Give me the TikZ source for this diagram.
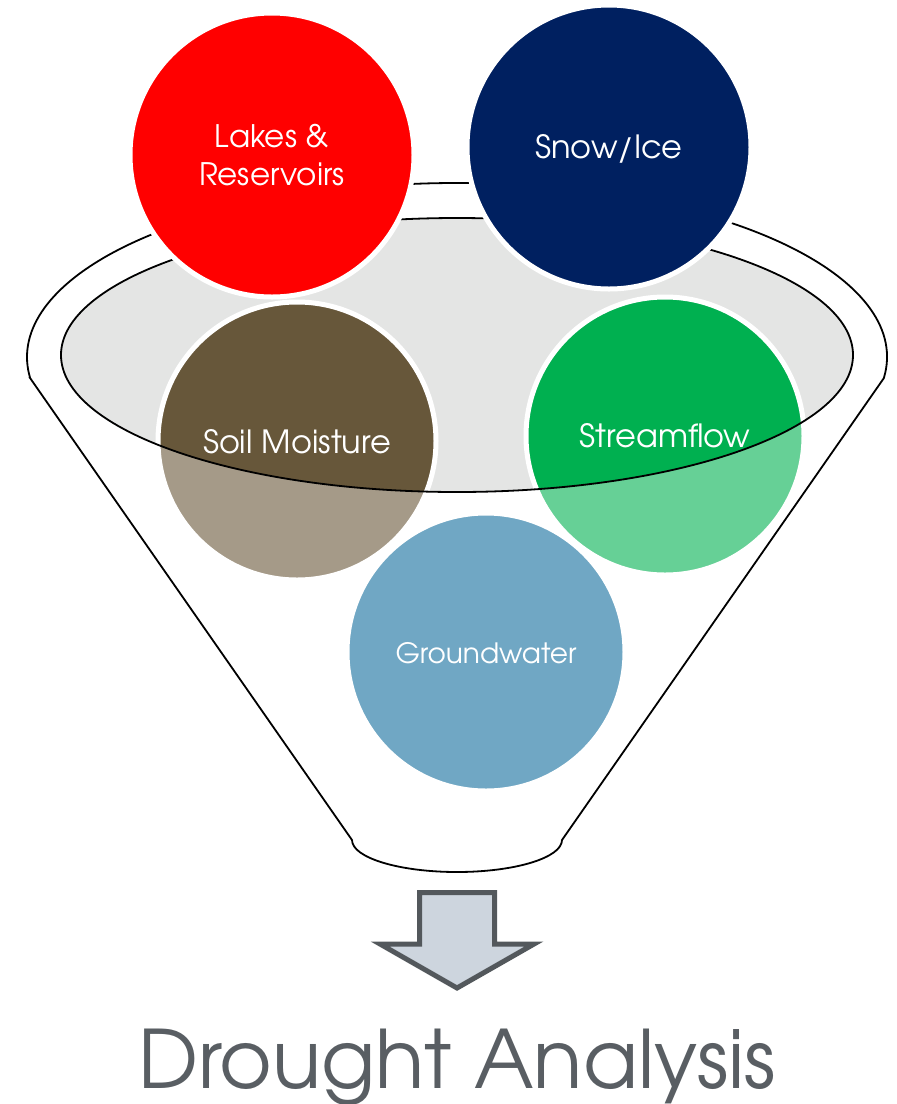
\documentclass[tikz,border=0pt]{standalone}
\usepackage{fontspec}
\setmainfont{TeX Gyre Adventor}
\begin{document}
\definecolor{lakered}{HTML}{FF0000}
\definecolor{snownavy}{HTML}{002060}
\definecolor{soildark}{HTML}{67573A}
\definecolor{soillight}{HTML}{A59A88}
\definecolor{flowdark}{HTML}{00B050}
\definecolor{flowlight}{HTML}{66D096}
\definecolor{gwblue}{HTML}{70A7C4}
\definecolor{rimgray}{HTML}{E4E5E4}
\definecolor{arrowfill}{HTML}{CDD5DE}
\definecolor{arrowline}{HTML}{53585C}
\definecolor{titlegray}{HTML}{595E63}
\begin{tikzpicture}[x=1pt,y=-1pt,
  funnelline/.style={draw=black,line width=1.8pt},
  bubble/.style={circle,inner sep=0pt,minimum size=#1,draw=white,line width=5pt},
  label/.style={text=white,font=\fontsize{32}{38}\selectfont,anchor=base,inner sep=0pt}]
\useasboundingbox (0,0) rectangle (897,1104);

% funnel body: upper rim, tapering sides, rounded spout
\draw[funnelline,fill=white] (30.2,378.2) -- (352,840)
  arc[start angle=180,end angle=0,x radius=105,y radius=32]
  -- (883.8,378.2)
  arc[start angle=7,end angle=-187,x radius=430,y radius=174] -- cycle;

% mouth of the funnel
\fill[rimgray] (457,355) ellipse[x radius=396,y radius=137];

% soil moisture and streamflow: darker where they sit inside the mouth
\fill[soillight] (297,441) circle[radius=139];
\fill[flowlight] (665,436) circle[radius=139];
\begin{scope}
  \clip (457,355) ellipse[x radius=396,y radius=137];
  \fill[soildark] (297,441) circle[radius=139];
  \fill[flowdark] (665,436) circle[radius=139];
\end{scope}
\node[bubble=278pt] (soil) at (297,441) {};
\node[bubble=278pt] (flow) at (665,436) {};

\draw[funnelline] (457,355) ellipse[x radius=396,y radius=137];

% bubbles resting on the rim and inside the funnel
\node[bubble=284pt,fill=lakered] (lakes) at (272,155) {};
\node[bubble=284pt,fill=snownavy] (snow) at (609,147) {};
\node[bubble=278pt,fill=gwblue] (ground) at (486,652) {};

\node[label,font=\fontsize{31}{36}\selectfont] (lakesA) at (272,147) {Lakes \&};
\node[label,font=\fontsize{31}{36}\selectfont] (lakesB) at (272,185) {Reservoirs};
\node[label] (snowT) at (609,158) {Snow/Ice};
\node[label,font=\fontsize{32}{38}\selectfont] (soilT) at (297,453) {Soil Moisture};
\node[label] (flowT) at (665,447) {Streamflow};
\node[label,font=\fontsize{28}{33}\selectfont] (groundT) at (486,663) {Groundwater};

% outflow arrow
\draw[line width=5pt,draw=arrowline,fill=arrowfill,miter limit=10]
  (419.5,892.5) -- (494.5,892.5) -- (494.5,944) -- (534,944)
  -- (457,988) -- (380,944) -- (419.5,944) -- cycle;

\node[text=titlegray,font=\fontsize{80.5}{90}\selectfont,anchor=base,inner sep=0pt]
  (title) at (457,1088) {Drought Analysis};
\end{tikzpicture}
\end{document}
